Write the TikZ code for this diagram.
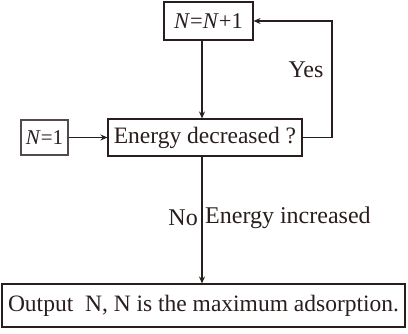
\documentclass[tikz,border=0pt]{standalone}
\usepackage{fontspec}
\setmainfont{Liberation Serif}
\usetikzlibrary{arrows.meta}
\definecolor{ink}{RGB}{40,30,30}
\begin{document}
\begin{tikzpicture}[x=1pt,y=-1pt,
  box/.style={draw=ink,line width=1.1pt,inner sep=0pt,font=\fontsize{23.5}{26}\selectfont,text=ink},
  conn/.style={draw=ink,line width=1.1pt,-{Stealth[length=7pt,width=6pt]}},
  lbl/.style={font=\fontsize{24}{26}\selectfont,text=ink,inner sep=0pt}]
\useasboundingbox (0,0) rectangle (408,333);
\node[box,minimum width=89pt,minimum height=38pt,font=\fontsize{22.5}{26}\selectfont] (inc) at (208.5,21) {\textit{N}=\textit{N}+1};
\node[box,minimum width=47pt,minimum height=35pt,draw=ink!80,font=\fontsize{21}{24}\selectfont] (init) at (44.5,137.5) {\textit{N}=1};
\node[box,minimum width=194pt,minimum height=37pt] (dec) at (205,137.5) {Energy decreased ?};
\node[box,minimum width=403pt,minimum height=43pt] (out) at (203.5,305.5) {Output\ \ N, N is the maximum adsorption.};
\coordinate (loop) at (332,137.5);
\draw[conn] (init) -- (dec);
\draw[conn] (inc.south -| 202,0) -- (dec.north -| 202,0);
\draw[conn] (dec.south -| 202,0) -- (out.north -| 202,0);
\draw[conn] (dec.east) -- (loop) |- (inc.east);
\node[lbl] (yes) at (306,70) {Yes};
\node[lbl,anchor=east] (no) at (198,218) {No};
\node[lbl,anchor=west] (ei) at (205,218) {Energy increased};
\end{tikzpicture}
\end{document}
